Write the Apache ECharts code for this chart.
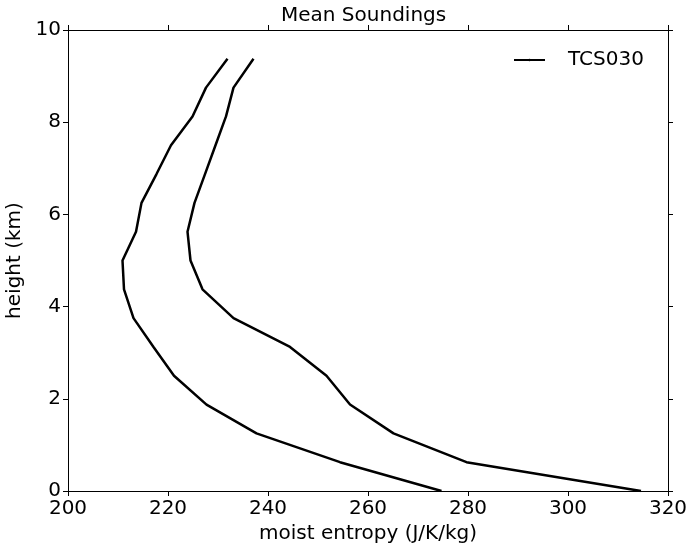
<!DOCTYPE html>
<html><head><meta charset="utf-8">
<script src="https://cdn.jsdelivr.net/npm/echarts@6/dist/echarts.min.js"></script>
<style>html,body{margin:0;padding:0;background:#fff}#c{width:690px;height:546px}</style>
</head><body><div id="c"></div>
<script>
const heights = [0, 0.625, 1.25, 1.875, 2.5, 3.125, 3.75, 4.375, 5.0, 5.625, 6.25, 6.875, 7.5, 8.125, 8.75, 9.375];
const entropyLow  = [274.7, 254.4, 237.7, 227.7, 221.2, 217.1, 213.1, 211.2, 210.9, 213.6, 214.7, 217.7, 220.6, 224.9, 227.6, 231.9];
const entropyHigh = [314.6, 279.7, 265.1, 256.4, 251.7, 244.4, 233.1, 226.9, 224.5, 223.9, 225.3, 227.4, 229.5, 231.6, 233.1, 237.1];
const seriesName = 'TCS030';
const xTicks = {min: 200, max: 320, interval: 20};
const yTicks = {min: 0, max: 10, interval: 2};

const font = 'DejaVu Sans';
const fs = 20;
const chart = echarts.init(document.getElementById('c'));
const axLine = {show: true, onZero: false, lineStyle: {color: '#000', width: 1}};
const tick = {show: true, inside: false, length: 5, lineStyle: {color: '#000', width: 1}};
function pts(xs){ return heights.map((h,i)=>[xs[i], h]); }
chart.setOption({
  animation: false,
  backgroundColor: '#fff',
  title: {text: 'Mean Soundings', left: 276, top: 1,
    textStyle: {fontFamily: font, fontSize: fs, fontWeight: 'normal', color: '#000'}},
  legend: {data: [seriesName], left: 508, top: 45, itemWidth: 31, itemHeight: 3, itemGap: 10,
    textStyle: {fontFamily: font, fontSize: fs, color: '#000', padding: [0,0,0,18]}},
  grid: {left: 68, right: 22, top: 30, bottom: 55, containLabel: false, outerBoundsMode: 'none'},
  xAxis: [
    {type: 'value', position: 'bottom', min: xTicks.min, max: xTicks.max, interval: xTicks.interval,
     name: 'moist entropy (J/K/kg)', nameLocation: 'middle', nameGap: 30,
     nameTextStyle: {fontFamily: font, fontSize: fs, color: '#000'},
     axisLine: axLine, axisTick: tick, splitLine: {show: false},
     axisLabel: {fontFamily: font, fontSize: fs, color: '#000', margin: 8}},
    {type: 'value', position: 'top', min: xTicks.min, max: xTicks.max, interval: xTicks.interval,
     axisLine: axLine, axisTick: tick, splitLine: {show: false}, axisLabel: {show: false}}
  ],
  yAxis: [
    {type: 'value', position: 'left', min: yTicks.min, max: yTicks.max, interval: yTicks.interval,
     name: 'height (km)', nameLocation: 'middle', nameGap: 38,
     nameTextStyle: {fontFamily: font, fontSize: fs, color: '#000'},
     axisLine: axLine, axisTick: tick, splitLine: {show: false},
     axisLabel: {fontFamily: font, fontSize: fs, color: '#000', margin: 7}},
    {type: 'value', position: 'right', min: yTicks.min, max: yTicks.max, interval: yTicks.interval,
     axisLine: axLine, axisTick: tick, splitLine: {show: false}, axisLabel: {show: false}}
  ],
  series: [
    {name: seriesName, type: 'line', data: pts(entropyLow), symbol: 'none', smooth: false,
     lineStyle: {color: '#000', width: 2.5}, itemStyle: {color: '#000'}},
    {name: seriesName, type: 'line', data: pts(entropyHigh), symbol: 'none', smooth: false,
     lineStyle: {color: '#000', width: 2.5}, itemStyle: {color: '#000'}}
  ]
});
</script></body></html>
